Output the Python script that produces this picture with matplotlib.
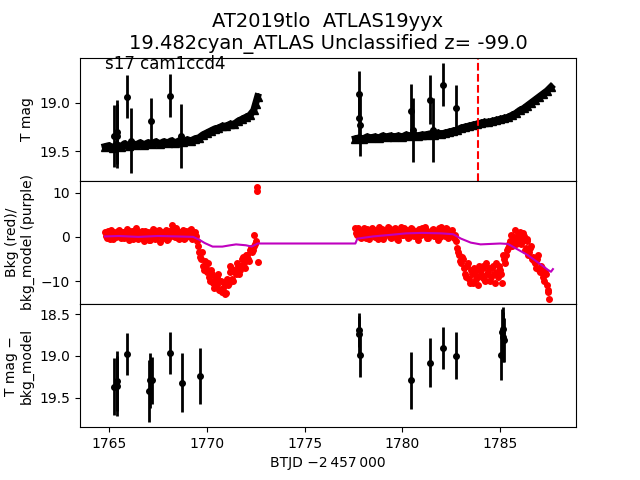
import matplotlib
matplotlib.use('Agg')
import matplotlib.pyplot as plt

# top panel: dense light curve band (T mag)
band1_t = [1764.8, 1765.0, 1765.2, 1765.4, 1765.6, 1765.8, 1766.0, 1766.2, 1766.4, 1766.6,
           1766.8, 1767.0, 1767.2, 1767.4, 1767.6, 1767.8, 1768.0, 1768.2, 1768.4, 1768.6,
           1768.8, 1769.0, 1769.2, 1769.4, 1769.6, 1769.8, 1770.0, 1770.2, 1770.4, 1770.6,
           1770.8, 1771.0, 1771.2, 1771.4, 1771.6, 1771.8, 1772.0, 1772.2, 1772.4, 1772.5,
           1772.6]
band1_m = [19.45, 19.44, 19.46, 19.43, 19.45, 19.42, 19.44, 19.42, 19.43, 19.41,
           19.43, 19.41, 19.42, 19.40, 19.42, 19.40, 19.41, 19.39, 19.41, 19.39,
           19.40, 19.38, 19.39, 19.37, 19.36, 19.33, 19.31, 19.29, 19.27, 19.26,
           19.24, 19.24, 19.22, 19.22, 19.19, 19.17, 19.15, 19.13, 19.08, 19.01,
           18.94]
band2_t = [1777.6, 1777.8, 1778.0, 1778.2, 1778.4, 1778.6, 1778.8, 1779.0, 1779.2, 1779.4,
           1779.6, 1779.8, 1780.0, 1780.2, 1780.4, 1780.6, 1780.8, 1781.0, 1781.2, 1781.4,
           1781.6, 1781.8, 1782.0, 1782.2, 1782.4, 1782.6, 1782.8, 1783.0, 1783.2, 1783.4,
           1783.6, 1783.8, 1784.0, 1784.2, 1784.4, 1784.6, 1784.8, 1785.0, 1785.2, 1785.4,
           1785.6, 1785.8, 1786.0, 1786.2, 1786.4, 1786.6, 1786.8, 1787.0, 1787.2, 1787.4,
           1787.6]
band2_m = [19.37, 19.36, 19.37, 19.35, 19.36, 19.35, 19.36, 19.34, 19.35, 19.34,
           19.35, 19.34, 19.35, 19.33, 19.34, 19.33, 19.34, 19.33, 19.33, 19.32,
           19.33, 19.31, 19.32, 19.31, 19.30, 19.29, 19.28, 19.26, 19.25, 19.24,
           19.23, 19.22, 19.21, 19.20, 19.20, 19.19, 19.18, 19.17, 19.16, 19.15,
           19.13, 19.11, 19.08, 19.06, 19.03, 19.00, 18.97, 18.94, 18.91, 18.88,
           18.84]

# top panel: detections with errors
det_t = [1765.24, 1765.39, 1765.42, 1765.94, 1766.11, 1767.13, 1768.12, 1768.70,
         1777.79, 1777.81, 1777.83, 1780.45, 1780.54, 1781.42, 1781.56, 1782.10, 1782.75]
det_m = [19.34, 19.30, 19.34, 18.94, 19.39, 19.19, 18.93, 19.34,
         18.91, 19.16, 19.23, 19.09, 19.28, 18.97, 19.28, 18.82, 19.06]
det_e = [0.32, 0.33, 0.33, 0.22, 0.33, 0.24, 0.22, 0.33,
         0.23, 0.25, 0.32, 0.28, 0.33, 0.25, 0.33, 0.22, 0.24]

# middle panel: background (red), orbit 1
bkg1_t = [1764.8, 1764.9, 1765.0, 1765.1, 1765.2, 1765.3, 1765.4, 1765.5, 1765.6, 1765.7,
          1765.8, 1765.9, 1766.0, 1766.1, 1766.2, 1766.3, 1766.4, 1766.5, 1766.6, 1766.7,
          1766.8, 1766.9, 1767.0, 1767.1, 1767.2, 1767.3, 1767.4, 1767.5, 1767.6, 1767.7,
          1767.8, 1767.9, 1768.0, 1768.1, 1768.2, 1768.3, 1768.4, 1768.5, 1768.6, 1768.7,
          1768.8, 1768.9, 1769.0, 1769.1, 1769.2, 1769.3, 1769.4, 1769.5, 1769.6, 1769.7,
          1769.8, 1769.9, 1770.0, 1770.1, 1770.2, 1770.3, 1770.4, 1770.5, 1770.6, 1770.7,
          1770.8, 1770.9, 1771.0, 1771.1, 1771.2, 1771.3, 1771.4, 1771.5, 1771.6, 1771.7,
          1771.8, 1771.9, 1772.0, 1772.1, 1772.2, 1772.3, 1772.4, 1772.5,
          1771.2, 1772.4, 1772.58, 1772.58, 1772.6]
bkg1_v = [1.2, -0.3, 0.8, 1.5, -0.5, 0.9, 0.2, 1.6, -0.2, 1.0,
          0.4, 1.7, -0.6, 0.9, 1.3, 0.1, 1.9, -0.4, 0.7, 1.4,
          -1.0, 0.6, 1.2, -0.8, 0.3, 1.5, -0.2, 0.8, -1.2, 1.1,
          0.2, 1.6, -0.5, 0.9, 2.6, 1.8, 0.0, 1.3, -0.4, 0.7,
          1.5, -0.2, 1.0, 0.3, 1.8, 0.6, 1.2, -1.0, -3.5, -5.0,
          -6.5, -5.5, -8.0, -9.0, -7.5, -10.5, -9.5, -11.0, -8.5, -12.0,
          -12.5, -10.5, -12.7, -11.0, -8.0, -9.5, -7.5, -8.5, -6.5, -7.5,
          -5.0, -6.0, -4.0, -5.0, -3.0, -3.5, -2.0, -1.0,
          -6.6, 0.5, 11.2, 10.4, -5.6]
bkg1b_t = [1764.85, 1764.95, 1765.05, 1765.15, 1765.25, 1765.35, 1765.45, 1765.55, 1765.65, 1765.75,
           1765.85, 1765.95, 1766.05, 1766.15, 1766.25, 1766.35, 1766.45, 1766.55, 1766.65, 1766.75,
           1766.85, 1766.95, 1767.05, 1767.15, 1767.25, 1767.35, 1767.45, 1767.55, 1767.65, 1767.75,
           1767.85, 1767.95, 1768.05, 1768.15, 1768.25, 1768.35, 1768.45, 1768.55, 1768.65, 1768.75,
           1768.85, 1768.95, 1769.05, 1769.15, 1769.25, 1769.35, 1769.45, 1769.55, 1769.65, 1769.75,
           1769.85, 1769.95, 1770.05, 1770.15, 1770.25, 1770.35, 1770.45, 1770.55, 1770.65, 1770.75,
           1770.85, 1770.95, 1771.05, 1771.15, 1771.25, 1771.35, 1771.45, 1771.55, 1771.65, 1771.75,
           1771.85, 1771.95, 1772.05, 1772.15, 1772.25, 1772.35, 1772.45]
bkg1b_v = [0.3, 1.4, -0.4, 0.6, 1.1, -0.1, 1.3, 0.5, 1.2, -0.3,
           1.0, 0.2, 1.4, 0.0, -0.5, 1.2, 0.4, 1.1, -0.2, 0.5,
           1.3, 0.0, -0.6, 1.0, 1.7, -0.4, 0.9, 1.5, 0.1, -0.3,
           1.2, -0.7, 1.4, 0.2, 1.3, 0.5, 2.0, -0.3, 1.1, 0.4,
           -0.5, 1.3, 0.1, 1.5, -0.4, 0.8, 0.3, -2.0, -4.5, -3.5,
           -7.5, -7.0, -6.0, -10.0, -8.5, -11.5, -10.0, -9.0, -12.0, -10.0,
           -11.5, -13.0, -9.5, -10.5, -7.0, -10.0, -8.0, -6.0, -8.5, -6.5,
           -4.5, -7.0, -4.0, -5.5, -2.5, -3.0, -1.5]

# middle panel: background (red), orbit 2
bkg2_t = [1777.6, 1777.7, 1777.8, 1777.9, 1778.0, 1778.1, 1778.2, 1778.3, 1778.4, 1778.5,
          1778.6, 1778.7, 1778.8, 1778.9, 1779.0, 1779.1, 1779.2, 1779.3, 1779.4, 1779.5,
          1779.6, 1779.7, 1779.8, 1779.9, 1780.0, 1780.1, 1780.2, 1780.3, 1780.4, 1780.5,
          1780.6, 1780.7, 1780.8, 1780.9, 1781.0, 1781.1, 1781.2, 1781.3, 1781.4, 1781.5,
          1781.6, 1781.7, 1781.8, 1781.9, 1782.0, 1782.1, 1782.2, 1782.3, 1782.4, 1782.5,
          1782.6, 1782.7, 1782.8, 1782.9, 1783.0, 1783.1, 1783.2, 1783.3, 1783.4, 1783.5,
          1783.6, 1783.7, 1783.8, 1783.9, 1784.0, 1784.1, 1784.2, 1784.3, 1784.4, 1784.5,
          1784.6, 1784.7, 1784.8, 1784.9, 1785.0, 1785.1, 1785.2, 1785.3, 1785.4, 1785.5,
          1785.6, 1785.7, 1785.8, 1785.9, 1786.0, 1786.1, 1786.2, 1786.3, 1786.4, 1786.5,
          1786.6, 1786.7, 1786.8, 1786.9, 1787.0, 1787.1, 1787.2, 1787.3, 1787.4, 1787.45,
          1787.5]
bkg2_v = [2.0, 0.5, 1.5, -0.3, 1.2, 0.4, 1.8, -0.5, 0.9, 1.5,
          0.0, 1.1, 2.2, 0.6, -0.4, 1.4, 0.8, 2.0, -0.2, 1.0,
          1.7, 0.3, -0.8, 1.2, 0.5, 2.1, 1.3, -0.3, 0.9, 1.8,
          0.2, 1.4, -0.6, 1.1, 2.0, 0.6, 1.5, -0.2, 0.9, 1.6,
          0.1, 1.3, -0.7, 0.8, 2.2, 1.0, 0.3, 1.7, 0.5, 1.2,
          0.2, 0.5, -2.5, -4.0, -6.0, -5.0, -8.5, -6.5, -9.5, -7.5,
          -10.5, -8.0, -9.0, -6.5, -8.5, -7.0, -9.5, -6.0, -8.0, -10.0,
          -7.0, -8.5, -6.0, -9.0, -7.5, -10.5, -5.0, -4.0, -2.5, -1.0,
          -2.0, 0.0, -1.5, 0.5, 1.2, -1.0, 0.3, -2.5, -0.5, -3.5,
          -2.0, -4.5, -6.0, -5.0, -7.5, -6.5, -9.0, -8.0, -11.0, -12.5,
          -14.0]
bkg2b_t = [1777.65, 1777.75, 1777.85, 1777.95, 1778.05, 1778.15, 1778.25, 1778.35, 1778.45, 1778.55,
           1778.65, 1778.75, 1778.85, 1778.95, 1779.05, 1779.15, 1779.25, 1779.35, 1779.45, 1779.55,
           1779.65, 1779.75, 1779.85, 1779.95, 1780.05, 1780.15, 1780.25, 1780.35, 1780.45, 1780.55,
           1780.65, 1780.75, 1780.85, 1780.95, 1781.05, 1781.15, 1781.25, 1781.35, 1781.45, 1781.55,
           1781.65, 1781.75, 1781.85, 1781.95, 1782.05, 1782.15, 1782.25, 1782.35, 1782.45, 1782.55,
           1782.65, 1782.75, 1782.85, 1782.95, 1783.05, 1783.15, 1783.25, 1783.35, 1783.45, 1783.55,
           1783.65, 1783.75, 1783.85, 1783.95, 1784.05, 1784.15, 1784.25, 1784.35, 1784.45, 1784.55,
           1784.65, 1784.75, 1784.85, 1784.95, 1785.05, 1785.15, 1785.25, 1785.35, 1785.45, 1785.55,
           1785.65, 1785.75, 1785.85, 1785.95, 1786.05, 1786.15, 1786.25, 1786.35, 1786.45, 1786.55,
           1786.65, 1786.75, 1786.85, 1786.95, 1787.05, 1787.15, 1787.25, 1787.35, 1787.45]
bkg2b_v = [0.8, 1.9, 0.0, 1.0, 2.1, -0.2, 0.7, 1.3, 2.0, 0.4,
           1.6, -0.4, 0.9, 1.8, 0.2, 1.2, 2.3, 0.0, 1.1, 0.6,
           1.9, -0.5, 1.0, 2.2, 0.4, 0.8, 1.5, -0.1, 2.0, 0.7,
           1.2, 0.1, 1.7, 0.5, 1.0, 2.3, -0.3, 1.1, 0.6, 1.8,
           0.3, 1.0, 2.0, 0.0, 1.4, 0.6, 1.9, -0.2, 1.0, 1.6,
           -0.3, -1.0, -3.5, -5.5, -4.5, -7.0, -9.0, -6.0, -10.5, -8.5,
           -7.0, -9.5, -11.0, -7.5, -9.0, -6.5, -10.0, -8.5, -7.0, -9.0,
           -6.5, -10.5, -8.0, -6.5, -8.5, -4.0, -6.0, -3.0, -1.5, 0.5,
           -1.0, 1.5, -0.5, 0.0, -1.5, 0.8, -3.0, -1.0, -4.0, -2.5,
           -5.0, -5.5, -7.0, -4.0, -8.0, -7.0, -10.0, -8.5, -12.0]

# middle panel: background model (purple)
mod_t = [1764.8, 1765.5, 1766.5, 1767.5, 1768.5, 1769.3, 1769.6, 1769.9, 1770.3, 1770.8,
         1771.2, 1771.5, 1772.0, 1772.3, 1772.6, 1777.6, 1777.7, 1778.5, 1779.5, 1780.2,
         1781.0, 1782.0, 1782.6, 1783.0, 1783.5, 1784.0, 1784.5, 1785.0, 1785.4, 1785.8,
         1786.4, 1787.0, 1787.45, 1787.6, 1787.7]
mod_v = [0.1, 0.2, 0.0, 0.2, 0.1, 0.0, -0.6, -1.4, -2.2, -2.2,
         -1.9, -1.7, -1.9, -2.2, -1.5, -1.5, -0.4, 0.1, 0.5, 0.8,
         0.9, 0.8, 0.6, -0.4, -1.3, -1.7, -1.6, -1.5, -1.6, -2.6,
         -4.1, -6.0, -7.5, -7.9, -7.3]

# bottom panel: T mag - bkg_model
sub_t = [1765.24, 1765.39, 1765.42, 1765.94, 1767.05, 1767.10, 1767.18, 1768.12, 1768.75,
         1769.67, 1777.79, 1777.81, 1777.84, 1780.45, 1781.42, 1782.10, 1782.75,
         1785.05, 1785.10, 1785.13, 1785.17, 1785.22]
sub_m = [19.37, 19.30, 19.36, 18.98, 19.42, 19.29, 19.29, 18.96, 19.32,
         19.24, 18.69, 18.74, 18.99, 19.29, 19.08, 18.90, 19.00,
         18.99, 18.71, 18.77, 18.68, 18.81]
sub_e = [0.34, 0.36, 0.36, 0.25, 0.37, 0.33, 0.28, 0.25, 0.35,
         0.33, 0.20, 0.22, 0.26, 0.34, 0.29, 0.25, 0.28,
         0.30, 0.27, 0.30, 0.26, 0.26]

sector_end = 1783.86

fig, axes = plt.subplots(3, 1, sharex=True, figsize=(6.4, 4.8))
plt.subplots_adjust(hspace=0)

# T mag
ax = axes[0]
ax.plot(band1_t, band1_m, 'k^-', ms=6, lw=5)
ax.plot(band2_t, band2_m, 'k^-', ms=6, lw=5)
ax.errorbar(det_t, det_m, yerr=det_e, fmt='ko', ms=4, elinewidth=2, capsize=0)
ax.axvline(sector_end, color='r', ls='--', lw=1.5)
ax.set_ylim(19.80, 18.54)
ax.set_yticks([19.0, 19.5])
ax.set_ylabel('T mag')
ax.set_title('AT2019tlo  ATLAS19yyx\n19.482cyan_ATLAS Unclassified z= -99.0', fontsize=14)

# background
ax = axes[1]
ax.plot(bkg1_t, bkg1_v, 'ro', ms=4)
ax.plot(bkg1b_t, bkg1b_v, 'ro', ms=4)
ax.plot(bkg2_t, bkg2_v, 'ro', ms=4)
ax.plot(bkg2b_t, bkg2b_v, 'ro', ms=4)
ax.plot(mod_t, mod_v, color='m', lw=1.5)
ax.set_ylim(-15.2, 12.7)
ax.set_yticks([10, 0, -10])
ax.set_ylabel('Bkg (red)/\nbkg_model (purple)')

# difference
ax = axes[2]
ax.errorbar(sub_t, sub_m, yerr=sub_e, fmt='ko', ms=4, elinewidth=2, capsize=0)
ax.set_ylim(19.85, 18.38)
ax.set_yticks([18.5, 19.0, 19.5])
ax.set_ylabel('T mag \u2212\nbkg_model')
ax.set_xlim(1763.52, 1788.88)
ax.set_xticks([1765, 1770, 1775, 1780, 1785])
ax.set_xlabel('BTJD \u22122\u2009457\u2009000')

fig.text(105 / 640, 1 - 55 / 480, 's17 cam1ccd4', fontsize=12, va='top')

plt.savefig('out.png', dpi=100)
